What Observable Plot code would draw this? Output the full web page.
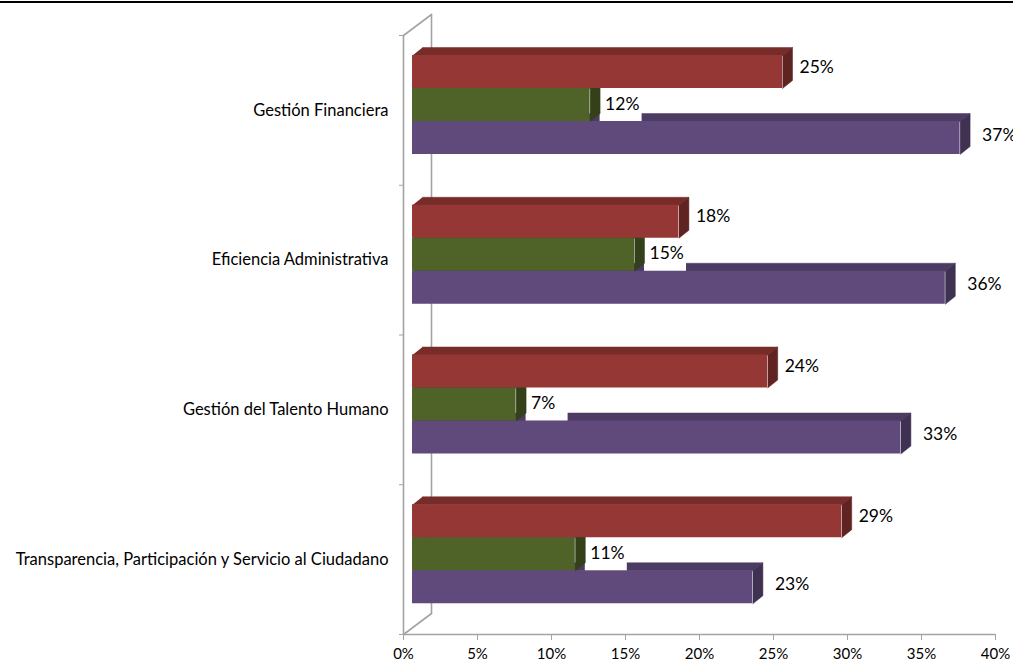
<!DOCTYPE html>
<html>
<head>
<meta charset="utf-8">
<script src="https://cdn.jsdelivr.net/npm/d3@7"></script>
<script src="https://cdn.jsdelivr.net/npm/@observablehq/plot@0.6"></script>
<style>
  body { margin: 0; background: #fff; }
  #chart { position: absolute; left: 0; top: 0; }
  #topline { position: absolute; left: 0; top: 1px; width: 1013px; height: 2px; background: #000; }
</style>
</head>
<body>
<div id="chart"></div>
<div id="topline"></div>
<script>
// ---- data ----
const categories = [
  "Gestión Financiera",
  "Eficiencia Administrativa",
  "Gestión del Talento Humano",
  "Transparencia, Participación y Servicio al Ciudadano"
];
const seriesNames = ["Serie 1", "Serie 2", "Serie 3"];
const redValues = [25, 18, 24, 29];
const greenValues = [12, 15, 7, 11];
const purpleValues = [37, 36, 33, 23];
const xTicks = [0, 5, 10, 15, 20, 25, 30, 35, 40];

// ---- layout ----
const W = 1013, H = 662;
const mL = 403, mR = 18, mT = 35, mB = 28;
const xMax = 40, nCat = categories.length;
const pxX = (W - mL - mR) / xMax;
const pxY = (H - mT - mB) / nCat;
const barOffsetPx = 9;       // bars' front plane shift
const firstBarTopPx = 20, barHPx = 33;
const depthX = 10 / pxX, depthY = 8 / pxY;       // bar depth (data units)
const wallX = 28 / pxX, wallY = 21 / pxY;        // wall depth (data units)
const gray = "#a3a3a3";

const series = [
  {name: seriesNames[0], values: redValues, slot: 0, front: "#953735", top: "#772c2a", side: "#5f2321", gap: 17, ldy: -5},
  {name: seriesNames[1], values: greenValues, slot: 1, front: "#4f6228", top: "#3e4d1f", side: "#33401a", gap: 15, ldy: -1},
  {name: seriesNames[2], values: purpleValues, slot: 2, front: "#604a7b", top: "#4c3b62", side: "#3f3151", gap: 22, ldy: -3}
];

function barsOf(s) {
  return categories.map((c, i) => {
    const y1 = i + (firstBarTopPx + s.slot * barHPx) / pxY;
    const y2 = y1 + barHPx / pxY;
    return {cat: c, series: s.name, value: s.values[i], x0: 0, y1, y2, ym: (y1 + y2) / 2};
  });
}
function topFaces(s) {
  return barsOf(s).flatMap((b, i) => [
    {k: i, x: 0, y: b.y1}, {k: i, x: b.value, y: b.y1},
    {k: i, x: b.value + depthX, y: b.y1 - depthY}, {k: i, x: depthX, y: b.y1 - depthY}
  ]);
}
function sideFaces(s) {
  return barsOf(s).flatMap((b, i) => [
    {k: i, x: b.value, y: b.y1}, {k: i, x: b.value + depthX, y: b.y1 - depthY},
    {k: i, x: b.value + depthX, y: b.y2 - depthY}, {k: i, x: b.value, y: b.y2}
  ]);
}

const wall = [
  {k: "back", x: wallX, y: -wallY}, {k: "back", x: wallX, y: nCat - wallY},
  {k: "top", x: 0, y: 0}, {k: "top", x: wallX, y: -wallY},
  {k: "bot", x: 0, y: nCat}, {k: "bot", x: wallX, y: nCat - wallY}
];

const marks = [
  Plot.line(wall, {x: "x", y: "y", z: "k", stroke: gray, strokeWidth: 1.6}),
  Plot.ruleX([0], {stroke: gray, strokeWidth: 1.6}),
  Plot.ruleY([nCat], {stroke: gray, strokeWidth: 1.6}),
  Plot.axisX({ticks: xTicks, tickFormat: d => d + "%", tickSize: 6, tickPadding: 8, stroke: gray, fill: "#000", fontSize: 15, label: null}),
  Plot.axisY({ticks: d3.range(nCat + 1), tickSize: 4, tickFormat: () => "", stroke: gray, label: null}),
  Plot.axisY({ticks: categories.map((c, i) => i + 0.5), tickSize: 0, tickPadding: 15,
    tickFormat: d => categories[Math.floor(d)], fill: "#000", fontSize: 16.5, label: null})
];

for (const s of [series[2], series[1], series[0]]) {
  if (s.slot === 1) {
    // white label boxes that hide the next bar's top face
    marks.push(Plot.rect(barsOf(s), {x1: "value", x2: "value", y1: "y1", y2: "y2", fill: "white",
      dx: barOffsetPx, insetLeft: 10, insetRight: -52}));
  }
  marks.push(
    Plot.line(topFaces(s), {x: "x", y: "y", z: "k", fill: s.top, stroke: s.top, strokeWidth: 0.5, dx: barOffsetPx}),
    Plot.line(sideFaces(s), {x: "x", y: "y", z: "k", fill: s.side, stroke: s.side, strokeWidth: 0.5, dx: barOffsetPx}),
    Plot.rect(barsOf(s), {x1: "x0", x2: "value", y1: "y1", y2: "y2", fill: s.front, dx: barOffsetPx}),
    Plot.text(barsOf(s), {x: "value", y: "ym", text: d => d.value + "%", textAnchor: "start",
      dx: barOffsetPx + s.gap, dy: s.ldy, fontSize: 17.5, fill: "#000"})
  );
}

const chart = Plot.plot({
  width: W, height: H,
  marginLeft: mL, marginRight: mR, marginTop: mT, marginBottom: mB,
  x: {domain: [0, xMax]},
  y: {domain: [0, nCat], reverse: true},
  style: {fontFamily: "Lato, 'Liberation Sans', sans-serif", fontSize: "14px", color: "#000", background: "#fff", overflow: "visible"},
  marks
});
document.getElementById("chart").appendChild(chart);
</script>
</body>
</html>
